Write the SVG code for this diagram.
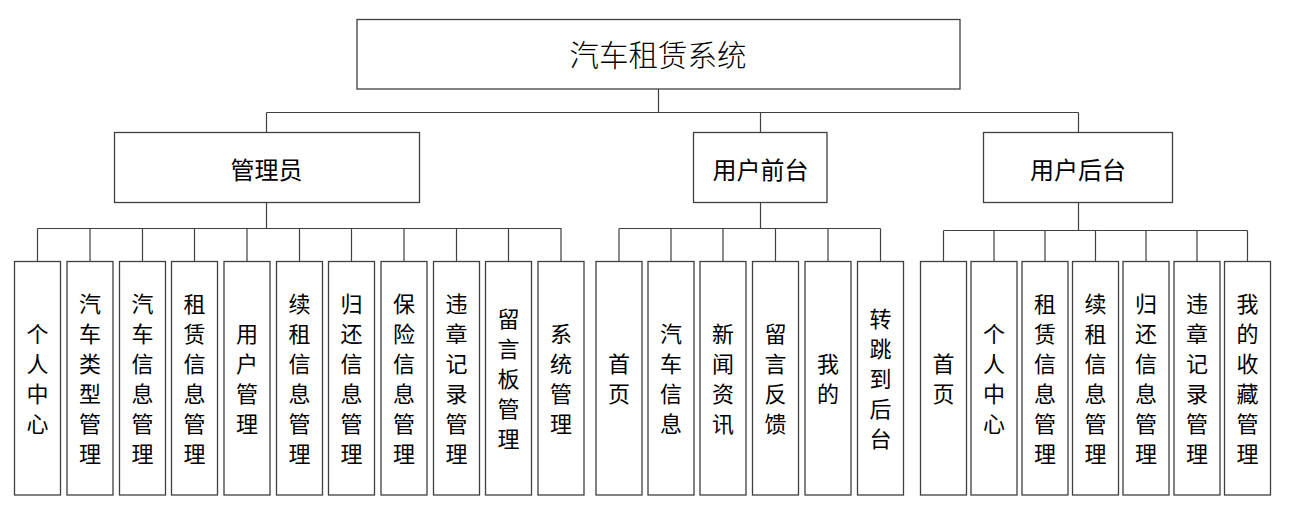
<svg xmlns="http://www.w3.org/2000/svg" width="1296" height="532" viewBox="0 0 1296 532">
<style>
.box{fill:#fff;stroke:#404040;stroke-width:1.3}
.ln{fill:none;stroke:#404040;stroke-width:1.2}
text{font-family:"Noto Sans CJK SC","Noto Sans CJK JP",sans-serif;fill:#000;text-anchor:middle;dominant-baseline:central}
.t0{font-size:29.5px;font-weight:300}
.t1{font-size:24px}
.t2{font-size:22px}
</style>
<rect width="1296" height="532" fill="#fff"/>
<g id="connectors">
<path class="ln" d="M658.5 89V112.5M266.5 112.5H1078.5M266.5 112.5V132M760.5 112.5V132M1078.5 112.5V132"/>
<path class="ln" d="M266.5 202V228.5M37.5 228.5H561.5M37.5 228.5V261M90 228.5V261M142.5 228.5V261M194.5 228.5V261M247 228.5V261M299.5 228.5V261M351.5 228.5V261M404 228.5V261M456.5 228.5V261M508.5 228.5V261M561 228.5V261"/>
<path class="ln" d="M760.5 202V228.5M619 228.5H880.5M619 228.5V261M671 228.5V261M723 228.5V261M775.5 228.5V261M828 228.5V261M880.5 228.5V261"/>
<path class="ln" d="M1078.5 202V230.5M943.5 230.5H1247.5M943.5 230.5V261M994 230.5V261M1045 230.5V261M1095.5 230.5V261M1146 230.5V261M1197 230.5V261M1247.5 230.5V261"/>
</g>
<g id="root"><rect class="box" x="357" y="19.5" width="603" height="69.5"/><text class="t0" x="658" y="53">汽车租赁系统</text></g>
<g id="admin"><rect class="box" x="114.5" y="132.5" width="305" height="70"/><text class="t1" x="266.5" y="168">管理员</text></g>
<g id="front"><rect class="box" x="693.5" y="132.5" width="133.5" height="70"/><text class="t1" x="760.5" y="168">用户前台</text></g>
<g id="back"><rect class="box" x="983.5" y="132.5" width="189" height="70"/><text class="t1" x="1078" y="168">用户后台</text></g>

<g id="a1"><rect class="box" x="14.5" y="261.5" width="46" height="233.5"/><text class="t2" x="37.5" y="332"><tspan x="37.5">个</tspan><tspan x="37.5" dy="30">人</tspan><tspan x="37.5" dy="30">中</tspan><tspan x="37.5" dy="30">心</tspan></text></g>
<g id="a2"><rect class="box" x="67" y="261.5" width="46" height="233.5"/><text class="t2" x="90" y="302"><tspan x="90">汽</tspan><tspan x="90" dy="30">车</tspan><tspan x="90" dy="30">类</tspan><tspan x="90" dy="30">型</tspan><tspan x="90" dy="30">管</tspan><tspan x="90" dy="30">理</tspan></text></g>
<g id="a3"><rect class="box" x="119.5" y="261.5" width="46" height="233.5"/><text class="t2" x="142.5" y="302"><tspan x="142.5">汽</tspan><tspan x="142.5" dy="30">车</tspan><tspan x="142.5" dy="30">信</tspan><tspan x="142.5" dy="30">息</tspan><tspan x="142.5" dy="30">管</tspan><tspan x="142.5" dy="30">理</tspan></text></g>
<g id="a4"><rect class="box" x="171.5" y="261.5" width="46" height="233.5"/><text class="t2" x="194.5" y="302"><tspan x="194.5">租</tspan><tspan x="194.5" dy="30">赁</tspan><tspan x="194.5" dy="30">信</tspan><tspan x="194.5" dy="30">息</tspan><tspan x="194.5" dy="30">管</tspan><tspan x="194.5" dy="30">理</tspan></text></g>
<g id="a5"><rect class="box" x="224" y="261.5" width="46" height="233.5"/><text class="t2" x="247" y="332"><tspan x="247">用</tspan><tspan x="247" dy="30">户</tspan><tspan x="247" dy="30">管</tspan><tspan x="247" dy="30">理</tspan></text></g>
<g id="a6"><rect class="box" x="276.5" y="261.5" width="46" height="233.5"/><text class="t2" x="299.5" y="302"><tspan x="299.5">续</tspan><tspan x="299.5" dy="30">租</tspan><tspan x="299.5" dy="30">信</tspan><tspan x="299.5" dy="30">息</tspan><tspan x="299.5" dy="30">管</tspan><tspan x="299.5" dy="30">理</tspan></text></g>
<g id="a7"><rect class="box" x="328.5" y="261.5" width="46" height="233.5"/><text class="t2" x="351.5" y="302"><tspan x="351.5">归</tspan><tspan x="351.5" dy="30">还</tspan><tspan x="351.5" dy="30">信</tspan><tspan x="351.5" dy="30">息</tspan><tspan x="351.5" dy="30">管</tspan><tspan x="351.5" dy="30">理</tspan></text></g>
<g id="a8"><rect class="box" x="381" y="261.5" width="46" height="233.5"/><text class="t2" x="404" y="302"><tspan x="404">保</tspan><tspan x="404" dy="30">险</tspan><tspan x="404" dy="30">信</tspan><tspan x="404" dy="30">息</tspan><tspan x="404" dy="30">管</tspan><tspan x="404" dy="30">理</tspan></text></g>
<g id="a9"><rect class="box" x="433.5" y="261.5" width="46" height="233.5"/><text class="t2" x="456.5" y="302"><tspan x="456.5">违</tspan><tspan x="456.5" dy="30">章</tspan><tspan x="456.5" dy="30">记</tspan><tspan x="456.5" dy="30">录</tspan><tspan x="456.5" dy="30">管</tspan><tspan x="456.5" dy="30">理</tspan></text></g>
<g id="a10"><rect class="box" x="485.5" y="261.5" width="46" height="233.5"/><text class="t2" x="508.5" y="317"><tspan x="508.5">留</tspan><tspan x="508.5" dy="30">言</tspan><tspan x="508.5" dy="30">板</tspan><tspan x="508.5" dy="30">管</tspan><tspan x="508.5" dy="30">理</tspan></text></g>
<g id="a11"><rect class="box" x="538" y="261.5" width="46" height="233.5"/><text class="t2" x="561" y="332"><tspan x="561">系</tspan><tspan x="561" dy="30">统</tspan><tspan x="561" dy="30">管</tspan><tspan x="561" dy="30">理</tspan></text></g>

<g id="f1"><rect class="box" x="596" y="261.5" width="46" height="233.5"/><text class="t2" x="619" y="362"><tspan x="619">首</tspan><tspan x="619" dy="30">页</tspan></text></g>
<g id="f2"><rect class="box" x="648" y="261.5" width="46" height="233.5"/><text class="t2" x="671" y="332"><tspan x="671">汽</tspan><tspan x="671" dy="30">车</tspan><tspan x="671" dy="30">信</tspan><tspan x="671" dy="30">息</tspan></text></g>
<g id="f3"><rect class="box" x="700" y="261.5" width="46" height="233.5"/><text class="t2" x="723" y="332"><tspan x="723">新</tspan><tspan x="723" dy="30">闻</tspan><tspan x="723" dy="30">资</tspan><tspan x="723" dy="30">讯</tspan></text></g>
<g id="f4"><rect class="box" x="752.5" y="261.5" width="46" height="233.5"/><text class="t2" x="775.5" y="332"><tspan x="775.5">留</tspan><tspan x="775.5" dy="30">言</tspan><tspan x="775.5" dy="30">反</tspan><tspan x="775.5" dy="30">馈</tspan></text></g>
<g id="f5"><rect class="box" x="805" y="261.5" width="46" height="233.5"/><text class="t2" x="828" y="362"><tspan x="828">我</tspan><tspan x="828" dy="30">的</tspan></text></g>
<g id="f6"><rect class="box" x="857.5" y="261.5" width="46" height="233.5"/><text class="t2" x="880.5" y="317"><tspan x="880.5">转</tspan><tspan x="880.5" dy="30">跳</tspan><tspan x="880.5" dy="30">到</tspan><tspan x="880.5" dy="30">后</tspan><tspan x="880.5" dy="30">台</tspan></text></g>

<g id="b1"><rect class="box" x="920.5" y="261.5" width="46" height="233.5"/><text class="t2" x="943.5" y="362"><tspan x="943.5">首</tspan><tspan x="943.5" dy="30">页</tspan></text></g>
<g id="b2"><rect class="box" x="971" y="261.5" width="46" height="233.5"/><text class="t2" x="994" y="332"><tspan x="994">个</tspan><tspan x="994" dy="30">人</tspan><tspan x="994" dy="30">中</tspan><tspan x="994" dy="30">心</tspan></text></g>
<g id="b3"><rect class="box" x="1022" y="261.5" width="46" height="233.5"/><text class="t2" x="1045" y="302"><tspan x="1045">租</tspan><tspan x="1045" dy="30">赁</tspan><tspan x="1045" dy="30">信</tspan><tspan x="1045" dy="30">息</tspan><tspan x="1045" dy="30">管</tspan><tspan x="1045" dy="30">理</tspan></text></g>
<g id="b4"><rect class="box" x="1072.5" y="261.5" width="46" height="233.5"/><text class="t2" x="1095.5" y="302"><tspan x="1095.5">续</tspan><tspan x="1095.5" dy="30">租</tspan><tspan x="1095.5" dy="30">信</tspan><tspan x="1095.5" dy="30">息</tspan><tspan x="1095.5" dy="30">管</tspan><tspan x="1095.5" dy="30">理</tspan></text></g>
<g id="b5"><rect class="box" x="1123" y="261.5" width="46" height="233.5"/><text class="t2" x="1146" y="302"><tspan x="1146">归</tspan><tspan x="1146" dy="30">还</tspan><tspan x="1146" dy="30">信</tspan><tspan x="1146" dy="30">息</tspan><tspan x="1146" dy="30">管</tspan><tspan x="1146" dy="30">理</tspan></text></g>
<g id="b6"><rect class="box" x="1174" y="261.5" width="46" height="233.5"/><text class="t2" x="1197" y="302"><tspan x="1197">违</tspan><tspan x="1197" dy="30">章</tspan><tspan x="1197" dy="30">记</tspan><tspan x="1197" dy="30">录</tspan><tspan x="1197" dy="30">管</tspan><tspan x="1197" dy="30">理</tspan></text></g>
<g id="b7"><rect class="box" x="1224.5" y="261.5" width="46" height="233.5"/><text class="t2" x="1247.5" y="302"><tspan x="1247.5">我</tspan><tspan x="1247.5" dy="30">的</tspan><tspan x="1247.5" dy="30">收</tspan><tspan x="1247.5" dy="30">藏</tspan><tspan x="1247.5" dy="30">管</tspan><tspan x="1247.5" dy="30">理</tspan></text></g>
</svg>
